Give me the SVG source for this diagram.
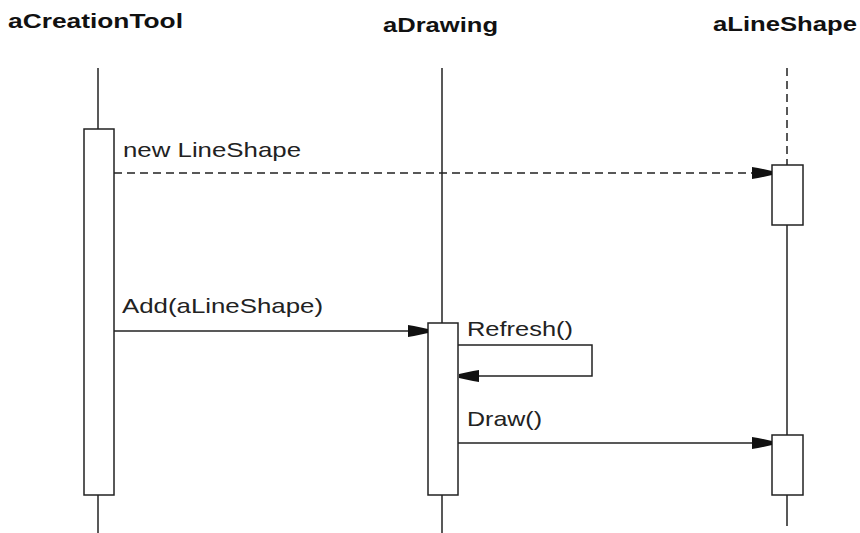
<svg xmlns="http://www.w3.org/2000/svg" width="860" height="533" viewBox="0 0 860 533">
<style>
.title{font-family:"Liberation Sans",Arial,sans-serif;font-weight:bold;font-size:21px;fill:#111}
.lbl{font-family:"Liberation Sans",Arial,sans-serif;font-size:21px;fill:#222}
.life{stroke:#222;stroke-width:1.5;fill:none}
.act{stroke:#222;stroke-width:1.5;fill:#fff}
.msg{stroke:#222;stroke-width:1.5;fill:none}
</style>
<defs>
<marker id="ah" viewBox="-20 -7 20 14" refX="0" refY="0" markerWidth="20" markerHeight="14" markerUnits="userSpaceOnUse" orient="auto">
<polygon points="-20,-6 -14,-5 0,-2 0,2 -14,5 -20,6" fill="#111"/>
</marker>
</defs>
<rect width="860" height="533" fill="#fff"/>
<g id="aCreationTool">
<text class="title" x="8" y="28" textLength="175" lengthAdjust="spacingAndGlyphs">aCreationTool</text>
<line class="life" x1="98" y1="68" x2="98" y2="533"/>
<rect class="act" x="84" y="129" width="30" height="366"/>
</g>
<g id="aDrawing">
<text class="title" x="383" y="32" textLength="115" lengthAdjust="spacingAndGlyphs">aDrawing</text>
<line class="life" x1="442" y1="68" x2="442" y2="533"/>
<rect class="act" x="428" y="323" width="30" height="172"/>
</g>
<g id="aLineShape">
<text class="title" x="713" y="31" textLength="144" lengthAdjust="spacingAndGlyphs">aLineShape</text>
<line class="life" x1="787" y1="68" x2="787" y2="165" stroke-dasharray="8,5"/>
<line class="life" x1="787" y1="225" x2="787" y2="435"/>
<line class="life" x1="787" y1="495" x2="787" y2="526"/>
<rect class="act" x="772" y="165" width="31" height="60"/>
<rect class="act" x="772" y="435" width="31" height="60"/>
</g>
<g id="connectors">
<line class="msg" x1="114" y1="173" x2="772" y2="173" stroke-dasharray="8,5" marker-end="url(#ah)"/>
<text class="lbl" x="123" y="157" textLength="178" lengthAdjust="spacingAndGlyphs">new LineShape</text>
<line class="msg" x1="114" y1="331" x2="428" y2="331" marker-end="url(#ah)"/>
<text class="lbl" x="122" y="313" textLength="201" lengthAdjust="spacingAndGlyphs">Add(aLineShape)</text>
<polyline class="msg" points="458,345 592,345 592,376 459,376" marker-end="url(#ah)"/>
<text class="lbl" x="467" y="336" textLength="106" lengthAdjust="spacingAndGlyphs">Refresh()</text>
<line class="msg" x1="458" y1="443" x2="772" y2="443" marker-end="url(#ah)"/>
<text class="lbl" x="467" y="426" textLength="75" lengthAdjust="spacingAndGlyphs">Draw()</text>
</g>
</svg>
